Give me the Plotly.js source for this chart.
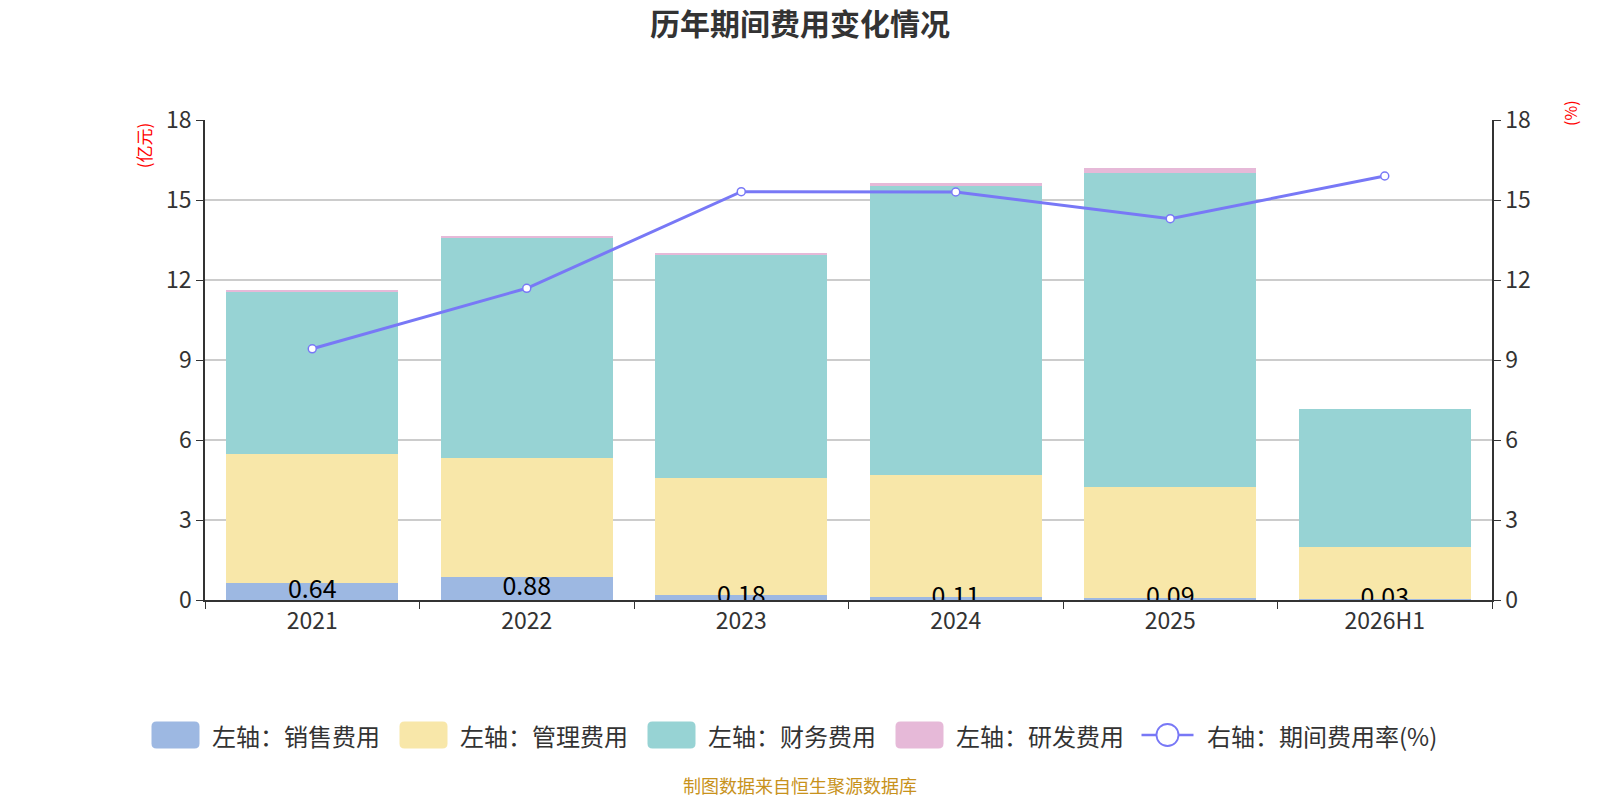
<!DOCTYPE html>
<html>
<head>
<meta charset="utf-8">
<script src="https://cdn.plot.ly/plotly-3.0.1.min.js"></script>
<style>
  html, body { margin: 0; padding: 0; background: #fff; }
  #graph { width: 1600px; height: 800px; }
</style>
</head>
<body>
<div id="graph"></div>
<script>
// categories and series (亿元), rate in %
var years = ['2021', '2022', '2023', '2024', '2025', '2026H1']
var sales = [0.64, 0.88, 0.18, 0.11, 0.09, 0.03]
var admin = [4.82, 4.46, 4.41, 4.58, 4.16, 1.97]
var finance = [6.09, 8.22, 8.35, 10.84, 11.76, 5.16]
var rnd = [0.06, 0.08, 0.06, 0.10, 0.18, 0]
var rateYears = ['2021', '2022', '2023', '2024', '2025', '2026H1']
var rate = [9.42, 11.69, 15.31, 15.30, 14.30, 15.90]

var seriesNames = ['左轴：销售费用', '左轴：管理费用', '左轴：财务费用', '左轴：研发费用']
var lineName = '右轴：期间费用率(%)'
var seriesColors = ['#9db8e2', '#f8e7a9', '#97d3d4', '#e6b9d8']
var lineColor = '#7878f6'
var seriesData = [sales, admin, finance, rnd]

var font = '"Noto Sans CJK SC", "Noto Sans", sans-serif'

// plot area in page pixels
var M = { l: 205, r: 108, t: 120, b: 200 }
var plotW = 1600 - M.l - M.r
var plotH = 800 - M.t - M.b
function px2x(px) { return (px - M.l) / plotW }
function py2y(py) { return (800 - M.b - py) / plotH }

var traces = []
for (var i = 0; i < seriesData.length; i++) {
    traces.push({
        type: 'bar',
        name: seriesNames[i],
        x: years,
        y: seriesData[i],
        marker: { color: seriesColors[i] },
        hoverinfo: 'x+y'
    })
}
traces.push({
    type: 'scatter',
    mode: 'lines+markers',
    name: lineName,
    x: rateYears,
    y: rate,
    yaxis: 'y2',
    line: { color: lineColor, width: 3 },
    marker: { size: 8, color: '#ffffff', line: { color: lineColor, width: 1.5 } }
})
// value labels on the sales segment
traces.push({
    type: 'scatter',
    mode: 'text',
    x: years,
    y: sales.map(function(v) { return v / 2 }),
    text: sales.map(function(v) { return v.toFixed(2) }),
    textposition: 'middle center',
    textfont: { size: 25, color: '#000', family: font },
    cliponaxis: true,
    showlegend: false,
    hoverinfo: 'skip'
})

// hand-made legend with large rounded swatches, like the reference
var shapes = []
var annotations = []
var legY = py2y(735)
var swatch = 'M -19,-13.5 H 19 Q 24,-13.5 24,-8.5 V 8.5 Q 24,13.5 19,13.5 H -19 ' +
             'Q -24,13.5 -24,8.5 V -8.5 Q -24,-13.5 -19,-13.5 Z'
for (var i = 0; i < seriesNames.length; i++) {
    var cx = 175.5 + i * 248
    shapes.push({
        type: 'path', xref: 'paper', yref: 'paper',
        xsizemode: 'pixel', ysizemode: 'pixel',
        xanchor: px2x(cx), yanchor: legY,
        path: swatch,
        fillcolor: seriesColors[i], line: { width: 0 }
    })
    annotations.push({
        text: seriesNames[i], xref: 'paper', yref: 'paper',
        x: px2x(cx + 34), y: legY, xanchor: 'left', yanchor: 'middle',
        showarrow: false, font: { size: 24, color: '#333' }
    })
}
var lx = 175.5 + 4 * 248
shapes.push({
    type: 'line', xref: 'paper', yref: 'paper',
    x0: px2x(lx - 26), x1: px2x(lx + 26), y0: legY, y1: legY,
    line: { color: lineColor, width: 2.5 }
})
shapes.push({
    type: 'circle', xref: 'paper', yref: 'paper',
    xsizemode: 'pixel', ysizemode: 'pixel',
    xanchor: px2x(lx), yanchor: legY,
    x0: -11, x1: 11, y0: -11, y1: 11,
    fillcolor: '#ffffff', line: { color: lineColor, width: 1.8 }
})
annotations.push({
    text: lineName, xref: 'paper', yref: 'paper',
    x: px2x(lx + 37), y: legY, xanchor: 'left', yanchor: 'middle',
    showarrow: false, font: { size: 24, color: '#333' }
})

annotations.push({
    text: '(亿元)', xref: 'paper', yref: 'paper',
    x: -0.048, y: 1.0, xanchor: 'center', yanchor: 'top',
    textangle: -90, showarrow: false,
    font: { size: 17, color: '#ff0000' }
})
annotations.push({
    text: '(%)', xref: 'paper', yref: 'paper',
    x: 1.061, y: 1.045, xanchor: 'center', yanchor: 'top',
    textangle: -90, showarrow: false,
    font: { size: 16, color: '#ff0000' }
})
annotations.push({
    text: '制图数据来自恒生聚源数据库', xref: 'paper', yref: 'paper',
    x: px2x(800), y: py2y(785), yanchor: 'middle',
    xanchor: 'center', showarrow: false,
    font: { size: 18, color: '#c8921c' }
})

var layout = {
    width: 1600,
    height: 800,
    barmode: 'stack',
    bargap: 0.2,
    showlegend: false,
    font: { family: font, color: '#333' },
    paper_bgcolor: '#fff',
    plot_bgcolor: '#fff',
    margin: M,
    title: {
        text: '<b>历年期间费用变化情况</b>',
        x: 0.5,
        y: 0.969,
        yanchor: 'middle',
        font: { size: 30, color: '#333', family: font }
    },
    xaxis: {
        type: 'category',
        showline: true,
        linecolor: '#333',
        linewidth: 1.5,
        ticks: 'outside',
        tickson: 'boundaries',
        ticklen: 7,
        tickcolor: '#333',
        tickfont: { size: 23, color: '#333' },
        showgrid: false,
        zeroline: false
    },
    yaxis: {
        range: [0, 18],
        dtick: 3,
        showline: true,
        linecolor: '#333',
        linewidth: 1.5,
        ticks: 'outside',
        ticklen: 7,
        tickcolor: '#333',
        tickfont: { size: 23, color: '#333' },
        gridcolor: '#cccccc',
        gridwidth: 1.5,
        zeroline: false
    },
    yaxis2: {
        overlaying: 'y',
        side: 'right',
        range: [0, 18],
        dtick: 3,
        showline: true,
        linecolor: '#333',
        linewidth: 1.5,
        ticks: 'outside',
        ticklen: 7,
        tickcolor: '#333',
        tickfont: { size: 23, color: '#333' },
        showgrid: false,
        zeroline: false
    },
    shapes: shapes,
    annotations: annotations
}

Plotly.newPlot('graph', traces, layout, { displayModeBar: false })
</script>
</body>
</html>
